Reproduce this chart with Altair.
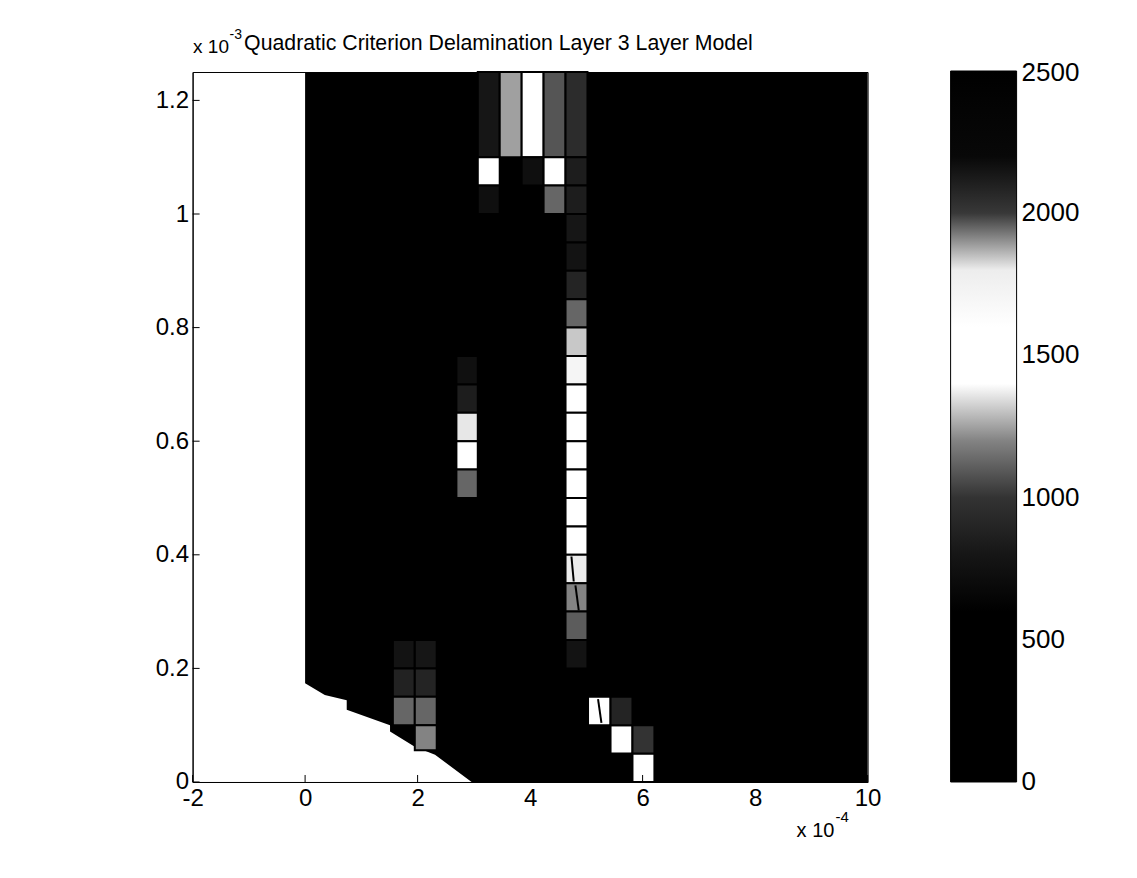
import altair as alt
import pandas as pd

FONT = "Liberation Sans"

# ---- data (x in units of 1e-4, y in units of 1e-3) ----
cell_x0 = [3.07, 3.46, 3.85, 4.24, 4.63,
           3.07, 3.85, 4.24, 4.63,
           3.07, 4.24, 4.63,
           4.63, 4.63, 4.63, 4.63, 4.63, 4.63, 4.63, 4.63, 4.63, 4.63, 4.63, 4.63, 4.63, 4.63, 4.63, 4.63,
           2.69, 2.69, 2.69, 2.69, 2.69,
           1.56, 1.56, 1.56,
           1.95, 1.95, 1.95, 1.95,
           5.03, 5.43, 5.43, 5.82, 5.82]
cell_x1 = [3.46, 3.85, 4.24, 4.63, 5.02,
           3.46, 4.24, 4.63, 5.02,
           3.46, 4.63, 5.02,
           5.02, 5.02, 5.02, 5.02, 5.02, 5.02, 5.02, 5.02, 5.02, 5.02, 5.02, 5.02, 5.02, 5.02, 5.02, 5.02,
           3.07, 3.07, 3.07, 3.07, 3.07,
           1.95, 1.95, 1.95,
           2.34, 2.34, 2.34, 2.34,
           5.43, 5.82, 5.82, 6.21, 6.21]
cell_y0 = [1.10, 1.10, 1.10, 1.10, 1.10,
           1.05, 1.05, 1.05, 1.05,
           1.00, 1.00, 1.00,
           0.95, 0.90, 0.85, 0.80, 0.75, 0.70, 0.65, 0.60, 0.55, 0.50, 0.45, 0.40, 0.35, 0.30, 0.25, 0.20,
           0.70, 0.65, 0.60, 0.55, 0.50,
           0.20, 0.15, 0.10,
           0.20, 0.15, 0.10, 0.056,
           0.10, 0.05, 0.10, 0.00, 0.05]
cell_y1 = [1.25, 1.25, 1.25, 1.25, 1.25,
           1.10, 1.10, 1.10, 1.10,
           1.05, 1.05, 1.05,
           1.00, 0.95, 0.90, 0.85, 0.80, 0.75, 0.70, 0.65, 0.60, 0.55, 0.50, 0.45, 0.40, 0.35, 0.30, 0.25,
           0.75, 0.70, 0.65, 0.60, 0.55,
           0.25, 0.20, 0.15,
           0.25, 0.20, 0.15, 0.10,
           0.15, 0.10, 0.15, 0.05, 0.10]
cell_value = [800, 1250, 1500, 1100, 950,
              1500, 750, 1450, 850,
              750, 1150, 850,
              800, 780, 900, 1150, 1300, 1380, 1500, 1500, 1500, 1500, 1500, 1500, 1360, 1200, 1120, 780,
              760, 850, 1350, 1500, 1150,
              780, 880, 1150,
              800, 900, 1150, 1200,
              1450, 1500, 900, 1500, 1000]

# slanted edges of skewed mesh elements
edge_x0 = [4.735, 4.806, 5.208]
edge_y0 = [0.397, 0.346, 0.146]
edge_x1 = [4.776, 4.865, 5.268]
edge_y1 = [0.353, 0.302, 0.104]

# lower-left edge of the meshed domain (region above it up to the top is meshed)
boundary_x = [0.0, 0.35, 0.74, 0.7401, 1.51, 1.5101, 1.95, 2.31, 2.96, 10.0]
boundary_y = [0.174, 0.153, 0.144, 0.127, 0.100, 0.089, 0.062, 0.048, 0.0, 0.0]
domain_top = 1.25

x_ticks = [-2, 0, 2, 4, 6, 8, 10]
y_ticks = [0, 0.2, 0.4, 0.6, 0.8, 1.0, 1.2]
cbar_ticks = [500, 1000, 1500, 2000]
cbar_min, cbar_max = 0, 2500

# grayscale rendering of the colormap (dark - bright - dark)
color_stops = [0, 650, 1000, 1150, 1250, 1320, 1400, 1780, 1870, 1960, 2100, 2500]
color_range = ["#000000", "#000000", "#333333", "#666666", "#a0a0a0", "#d8d8d8",
               "#ffffff", "#ffffff", "#b0b0b0", "#4a4a4a", "#0a0a0a", "#000000"]

title_text = "Quadratic Criterion Delamination Layer 3 Layer Model"

# ---- chart ----
W, H = 675, 710

cells = pd.DataFrame({"x0": cell_x0, "x1": cell_x1, "y0": cell_y0,
                      "y1": cell_y1, "v": cell_value})
edges = pd.DataFrame({"x0": edge_x0, "y0": edge_y0, "x1": edge_x1, "y1": edge_y1})
bnd = pd.DataFrame({"bx": boundary_x, "by": boundary_y,
                    "top": [domain_top] * len(boundary_x)})

x_scale = alt.Scale(domain=[-2, 10], nice=False, zero=False)
y_scale = alt.Scale(domain=[0, 1.25], nice=False, zero=False)

x_axis = alt.Axis(values=x_ticks, labelExpr="datum.value + ''", title=None, grid=False,
                  ticks=False, tickSize=0, labelFontSize=24, labelFont=FONT,
                  labelColor="black", domainColor="black", domainWidth=1,
                  labelPadding=5, labelFlush=False)
y_axis = alt.Axis(values=y_ticks, labelExpr="datum.value + ''", title=None, grid=False,
                  ticks=False, tickSize=0, labelFontSize=24, labelFont=FONT,
                  labelColor="black", domainColor="black", domainWidth=1, labelPadding=4)

area = alt.Chart(bnd).mark_area(color="black", opacity=1, orient="vertical",
                                interpolate="linear").encode(
    x=alt.X("bx:Q", scale=x_scale, axis=x_axis),
    y=alt.Y("by:Q", scale=y_scale, axis=y_axis),
    y2=alt.Y2("top"),
)

legend = alt.Legend(orient="none", legendX=758, legendY=-1, direction="vertical",
                    gradientLength=711, gradientThickness=66, values=cbar_ticks,
                    format="d", labelFontSize=26, labelFont=FONT, labelColor="black",
                    labelOffset=5, gradientStrokeColor="black",
                    gradientStrokeWidth=1, labelOverlap=False, title=None)

rects = alt.Chart(cells).mark_rect(stroke="black", strokeWidth=2).encode(
    x=alt.X("x0:Q", scale=x_scale, axis=x_axis),
    x2="x1:Q",
    y=alt.Y("y0:Q", scale=y_scale, axis=y_axis),
    y2="y1:Q",
    color=alt.Color("v:Q", scale=alt.Scale(domain=color_stops, range=color_range,
                                           interpolate="rgb"),
                    legend=legend, title=None),
)

slants = alt.Chart(edges).mark_rule(color="black", strokeWidth=2).encode(
    x=alt.X("x0:Q", scale=x_scale, axis=x_axis), x2="x1:Q",
    y=alt.Y("y0:Q", scale=y_scale, axis=y_axis), y2="y1:Q",
)

xt = alt.Chart(pd.DataFrame({"t": x_ticks})).mark_rule(color="black", strokeWidth=1).encode(
    x=alt.X("t:Q", scale=x_scale, axis=x_axis), y=alt.value(H), y2=alt.value(H - 7))
yt = alt.Chart(pd.DataFrame({"t": y_ticks})).mark_rule(color="black", strokeWidth=1).encode(
    y=alt.Y("t:Q", scale=y_scale, axis=y_axis), x=alt.value(0), x2=alt.value(7))


def label(text, x, y, size):
    return alt.Chart(pd.DataFrame({"t": [text]})).mark_text(
        align="left", baseline="middle", fontSize=size, font=FONT, color="black"
    ).encode(text="t:N", x=alt.value(x), y=alt.value(y))


chart = alt.layer(
    area, rects, slants, xt, yt,
    label("x 10", 0.5, -25, 19),
    label("-3", 37, -37, 14),
    label(title_text, 51.5, -28, 21.3),
    label("x 10", 604, 759, 20),
    label("-4", 643, 745, 15),
    label(str(cbar_max), 829, 1, 26),
    label(str(cbar_min), 829, H, 26),
).properties(
    width=W, height=H,
    autosize=alt.AutoSizeParams(type="none"),
    padding={"left": 184.6, "top": 64, "right": 240, "bottom": 80},
    background="white",
).configure_view(stroke="black", strokeWidth=1)

chart.save("out.html", embed_options={"renderer": "svg", "actions": False})
